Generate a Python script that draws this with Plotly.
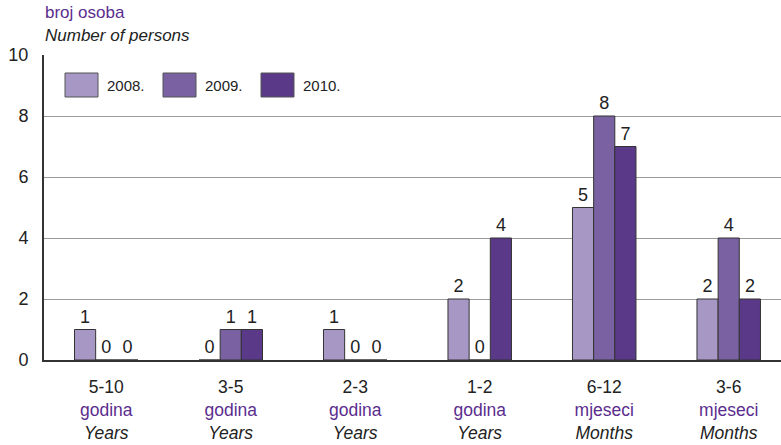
import plotly.graph_objects as go

# data
ranges = ["5-10", "3-5", "2-3", "1-2", "6-12", "3-6"]
units_hr = ["godina", "godina", "godina", "godina", "mjeseci", "mjeseci"]
units_en = ["Years", "Years", "Years", "Years", "Months", "Months"]
years = ["2008.", "2009.", "2010."]
v2008 = [1, 0, 1, 2, 5, 2]
v2009 = [0, 1, 0, 0, 8, 4]
v2010 = [0, 1, 0, 4, 7, 2]
colors = ["#a797c5", "#7a62a2", "#5a3989"]

PURPLE = "#5b2d8e"
FONT = "Liberation Sans, Arial, sans-serif"
PW, PH = 737, 305  # plot area size in px

ticktext = [f"{r}<br><span style='color:{PURPLE}'>{h}</span><br><i>{e}</i>"
            for r, h, e in zip(ranges, units_hr, units_en)]
xs = list(range(len(ranges)))

fig = go.Figure()
for name, vals, col in zip(years, [v2008, v2009, v2010], colors):
    fig.add_trace(go.Bar(
        x=xs, y=vals, name=name,
        marker=dict(color=col, line=dict(color="#333333", width=1)),
        text=[str(v) for v in vals], textposition="outside",
        textfont=dict(size=18, color="#222222", family=FONT),
        cliponaxis=False, showlegend=False,
    ))

# custom legend: big swatches like the original
for i, (name, col) in enumerate(zip(years, colors)):
    x0 = 21 + i * 98
    fig.add_shape(type="rect", xref="paper", yref="paper",
                  x0=x0 / PW, x1=(x0 + 33) / PW,
                  y0=1 - 42 / PH, y1=1 - 18 / PH,
                  fillcolor=col, line=dict(color="#555555", width=1))
    fig.add_annotation(text=name, xref="paper", yref="paper",
                       x=(x0 + 40) / PW, y=1 - 30 / PH, xanchor="left", yanchor="middle",
                       showarrow=False, font=dict(size=15, color="#222222", family=FONT))

fig.add_annotation(text="broj osoba", xref="paper", yref="paper", x=-1 / PW, y=1 + 42 / PH,
                   xanchor="left", yanchor="middle", showarrow=False,
                   font=dict(size=17, color=PURPLE, family=FONT))
fig.add_annotation(text="<i>Number of persons</i>", xref="paper", yref="paper",
                   x=-1 / PW, y=1 + 19 / PH, xanchor="left", yanchor="middle",
                   showarrow=False, font=dict(size=17, color="#222222", family=FONT))

fig.update_layout(
    width=781, height=445,
    margin=dict(l=44, r=0, t=55, b=85),
    paper_bgcolor="white", plot_bgcolor="white",
    barmode="group", bargap=0.49, bargroupgap=0,
    font=dict(family=FONT, size=17, color="#222222"),
    xaxis=dict(tickmode="array", tickvals=xs, ticktext=ticktext,
               range=[-0.5, 5.42], showgrid=False, ticks="",
               showline=True, linecolor="#333333", linewidth=2,
               ticklabelstandoff=10, automargin=False,
               tickfont=dict(size=17.5, family=FONT, color="#222222")),
    yaxis=dict(range=[0, 10], tickvals=[0, 2, 4, 6, 8, 10],
               showgrid=True, gridcolor="#9a9a9a", gridwidth=1,
               zeroline=False, showline=True, linecolor="#333333", linewidth=2,
               ticks="", ticklabelstandoff=10,
               tickfont=dict(size=18, family=FONT, color="#222222")),
)

# drop the default 8px body margin so the figure sits at the window's corner
fig.write_html("out.html", config={"displayModeBar": False},
               post_script="document.body.style.margin='0';")
